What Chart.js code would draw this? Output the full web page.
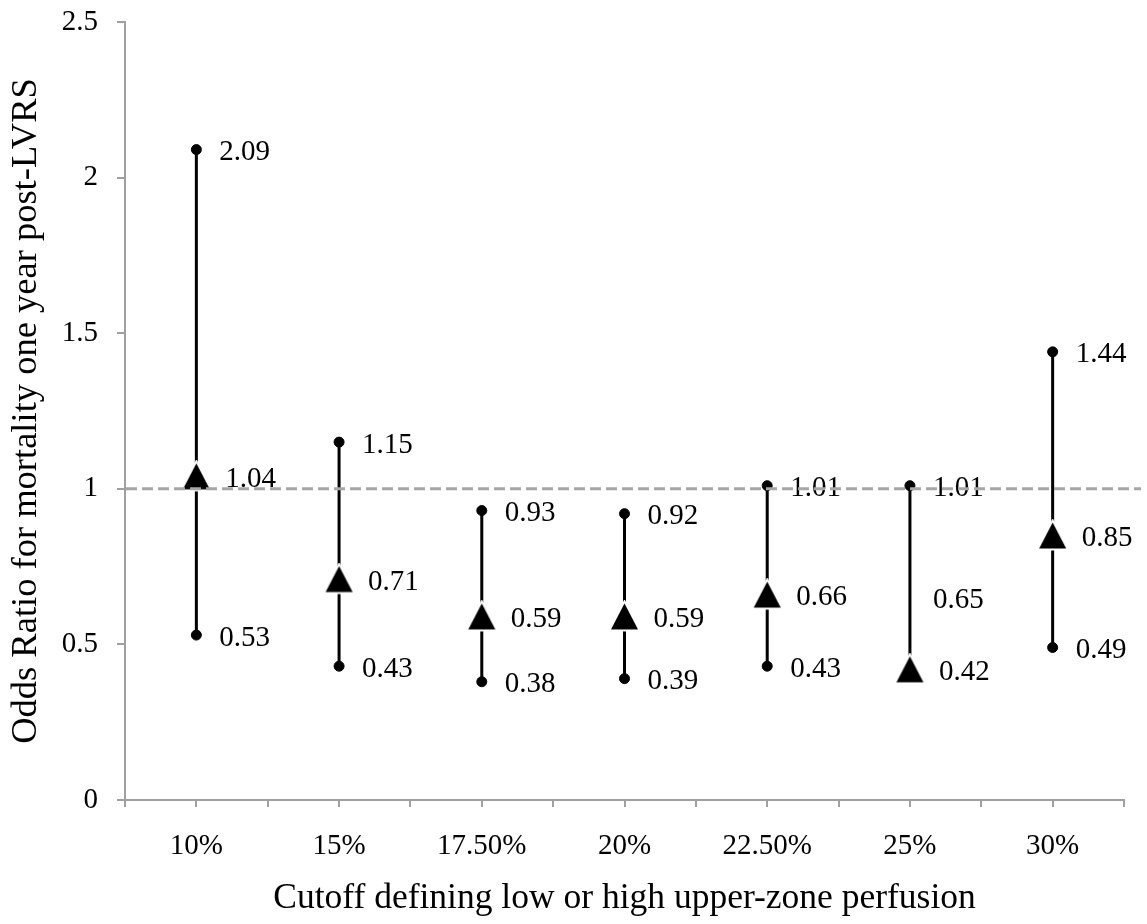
<!DOCTYPE html>
<html>
<head>
<meta charset="utf-8">
<script src="https://cdn.jsdelivr.net/npm/chart.js@4/dist/chart.umd.min.js"></script>
<style>
  html, body { margin: 0; padding: 0; background: #fff; }
  #wrap { width: 1147px; height: 924px; }
</style>
</head>
<body>
<div id="wrap"><canvas id="myChart" width="1147" height="924"></canvas></div>
<script>
// cutoffs on the x axis
const cutoffs = ["10%", "15%", "17.50%", "20%", "22.50%", "25%", "30%"];
// odds ratio and its confidence limits
const oddsRatio = [1.04, 0.71, 0.59, 0.59, 0.66, 0.65, 0.85];
const upperCI = [2.09, 1.15, 0.93, 0.92, 1.01, 1.01, 1.44];
const lowerCI = [0.53, 0.43, 0.38, 0.39, 0.43, 0.42, 0.49];
// y ticks
const yTicks = [0, 0.5, 1, 1.5, 2, 2.5];
// reference line
const refLine = 1;
// in the original the triangle for this cutoff sits on the lower limit
const triangleOnLower = "25%";

const serif = "'Liberation Serif', 'Times New Roman', serif";

// triangle marker
function makeTriangle() {
  let c = document.createElement("canvas");
  c.width = 33;
  c.height = 33;
  let g = c.getContext("2d");
  g.beginPath();
  g.moveTo(16.5, 3.5);
  g.lineTo(30, 29.5);
  g.lineTo(3, 29.5);
  g.closePath();
  g.lineJoin = "miter";
  g.strokeStyle = "#fff";
  g.lineWidth = 4;
  g.stroke();
  g.fillStyle = "#000";
  g.fill();
  return c;
}
const tri = makeTriangle();

function toPoints(arr) {
  return arr.map((v, i) => ({ x: i + 1, y: v }));
}

function isTri(dsIndex, i) {
  let onLower = cutoffs[i] === triangleOnLower;
  if (dsIndex === 2) return !onLower;
  if (dsIndex === 1) return onLower;
  return false;
}

// vertical error bars
const errorBars = {
  id: "errorBars",
  beforeDatasetsDraw(chart) {
    const { ctx, scales: { x, y } } = chart;
    ctx.save();
    ctx.strokeStyle = "#000";
    ctx.lineWidth = 3;
    for (let i = 0; i < cutoffs.length; i++) {
      let px = x.getPixelForValue(i + 1);
      ctx.beginPath();
      ctx.moveTo(px, y.getPixelForValue(lowerCI[i]));
      ctx.lineTo(px, y.getPixelForValue(upperCI[i]));
      ctx.stroke();
    }
    ctx.restore();
  },
};

// value labels and dashed line at OR = 1
const labelsAndRef = {
  id: "labelsAndRef",
  afterDatasetsDraw(chart) {
    const { ctx, chartArea, scales: { y } } = chart;
    ctx.save();
    ctx.font = "29px " + serif;
    ctx.fillStyle = "#000";
    ctx.textAlign = "left";
    ctx.textBaseline = "middle";
    chart.data.datasets.forEach((ds, d) => {
      let meta = chart.getDatasetMeta(d);
      meta.data.forEach((pt, i) => {
        let off = isTri(d, i) ? 29 : 23;
        ctx.fillText(ds.data[i].y.toFixed(2), pt.x + off, pt.y + 3);
      });
    });

    let py = y.getPixelForValue(refLine);
    ctx.strokeStyle = "#a6a6a6";
    ctx.lineWidth = 3;
    ctx.setLineDash([11, 5]);
    ctx.beginPath();
    ctx.moveTo(chartArea.left + 1, py);
    ctx.lineTo(chartArea.right + 17, py);
    ctx.stroke();
    ctx.restore();
  },
};

const data = {
  datasets: [
    {
      label: "Upper",
      data: toPoints(upperCI),
      pointStyle: "circle",
      pointRadius: 5,
      backgroundColor: "#000",
      borderColor: "#000",
    },
    {
      label: "Lower",
      data: toPoints(lowerCI),
      pointStyle: (c) => (isTri(1, c.dataIndex) ? tri : "circle"),
      pointRadius: 5,
      backgroundColor: "#000",
      borderColor: "#000",
    },
    {
      label: "Odds ratio",
      data: toPoints(oddsRatio),
      pointStyle: tri,
      pointRadius: (c) => (isTri(2, c.dataIndex) ? 10 : 0),
      backgroundColor: "#000",
      borderColor: "#000",
    },
  ],
};

const config = {
  type: "scatter",
  data: data,
  plugins: [errorBars, labelsAndRef],
  options: {
    responsive: false,
    animation: false,
    layout: { padding: { top: 22, right: 23, left: 0, bottom: 0 } },
    plugins: { legend: { display: false }, tooltip: { enabled: false } },
    scales: {
      x: {
        type: "linear",
        min: 0.5,
        max: cutoffs.length + 0.5,
        afterBuildTicks: (s) => {
          s.ticks = [];
          for (let v = 0.5; v <= cutoffs.length + 0.5; v += 0.5) s.ticks.push({ value: v });
        },
        afterFit: (s) => {
          s.height = 124;
          s.paddingLeft = 0;
          s.paddingRight = 0;
        },
        ticks: {
          autoSkip: false,
          maxRotation: 0,
          padding: 22,
          color: "#000",
          font: { family: serif, size: 29 },
          callback: (v) => (Number.isInteger(v) ? cutoffs[v - 1] : ""),
        },
        grid: { drawOnChartArea: false, drawTicks: true, tickLength: 7, color: "#a0a0a0", lineWidth: 2 },
        border: { color: "#a0a0a0", width: 2 },
        title: {
          display: true,
          text: "Cutoff defining low or high upper-zone perfusion",
          color: "#000",
          font: { family: serif, size: 35.5 },
          padding: { top: 0, bottom: 4 },
        },
      },
      y: {
        min: 0,
        max: 2.5,
        afterBuildTicks: (s) => { s.ticks = yTicks.map((v) => ({ value: v })); },
        afterFit: (s) => {
          s.width = 125;
          s.paddingTop = 0;
          s.paddingBottom = 0;
        },
        ticks: {
          padding: 19,
          color: "#000",
          font: { family: serif, size: 29 },
          callback: (v) => String(v),
        },
        grid: { drawOnChartArea: false, drawTicks: true, tickLength: 8, color: "#a0a0a0", lineWidth: 2 },
        border: { color: "#a0a0a0", width: 2 },
        title: {
          display: true,
          text: "Odds Ratio for mortality one year post-LVRS",
          color: "#000",
          font: { family: serif, size: 36.5 },
          padding: { top: 5, bottom: 0 },
        },
      },
    },
  },
};

let myChart = new Chart(document.querySelector("#myChart"), config);
</script>
</body>
</html>
